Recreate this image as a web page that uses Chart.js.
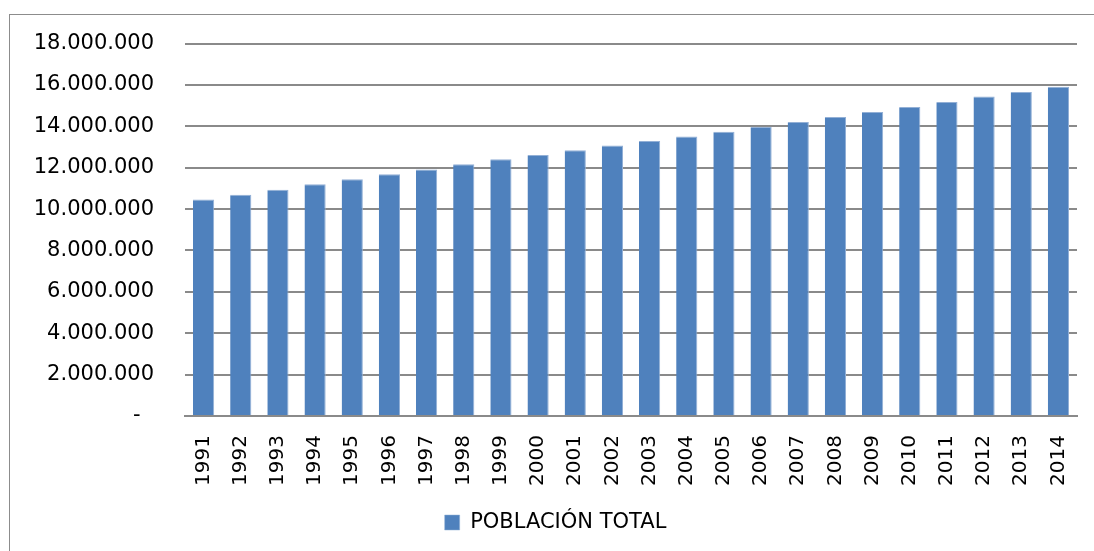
<!DOCTYPE html>
<html>
<head>
<meta charset="utf-8">
<script src="https://cdn.jsdelivr.net/npm/chart.js@4"></script>
<style>
  html, body { margin: 0; padding: 0; background: #fff; overflow: hidden; width: 1094px; height: 551px; }
  .frame { position: absolute; left: 9px; top: 14px; width: 1085px; height: 537px;
           border-left: 1.5px solid #8c8c8c; border-top: 1.5px solid #8c8c8c; box-sizing: border-box; }
  .wrap { position: absolute; left: 0; top: 0; width: 1094px; height: 551px; }
</style>
</head>
<body>
<div class="frame"></div>
<div class="wrap"><canvas id="chart" width="1094" height="551"></canvas></div>
<script>
const years = ['1991', '1992', '1993', '1994', '1995', '1996', '1997', '1998', '1999', '2000', '2001', '2002',
  '2003', '2004', '2005', '2006', '2007', '2008', '2009', '2010', '2011', '2012', '2013', '2014'];
const poblacion = [10470000, 10690000, 10940000, 11200000, 11440000, 11680000, 11910000, 12170000, 12410000, 12620000, 12850000, 13070000,
  13290000, 13510000, 13740000, 13980000, 14210000, 14450000, 14690000, 14940000, 15180000, 15440000, 15660000, 15920000];
const seriesLabel = 'POBLACIÓN TOTAL';
const yMax = 18000000;
const yStep = 2000000;

// Excel style thousands with dots, zero shown as a dash
const formatTick = v => v === 0 ? '-  ' : v.toLocaleString('de-DE');

const font = 'DejaVu Sans';

new Chart(document.getElementById('chart'), {
  type: 'bar',
  data: {
    labels: years,
    datasets: [{
      label: seriesLabel,
      data: poblacion,
      backgroundColor: '#4F81BD',
      borderColor: '#93b0d6',
      borderWidth: { top: 1, right: 1, left: 0, bottom: 0 },
      borderSkipped: 'bottom',
      categoryPercentage: 1,
      barPercentage: 0.57
    }]
  },
  options: {
    responsive: false,
    animation: false,
    layout: { padding: { left: 34, right: 17, top: 34, bottom: 8 } },
    plugins: {
      tooltip: { enabled: false },
      legend: {
        position: 'bottom',
        labels: {
          color: '#000',
          font: { family: font, size: 21 },
          boxWidth: 15,
          boxHeight: 15,
          padding: 10
        }
      }
    },
    scales: {
      x: {
        grid: { display: false, drawTicks: false },
        border: { display: true, color: '#8a8a8a', width: 2 },
        ticks: {
          color: '#000',
          font: { family: font, size: 20 },
          minRotation: 90,
          maxRotation: 90,
          padding: 19,
          autoSkip: false
        },
        afterFit: axis => {
          axis.height = 86;
          axis.paddingLeft = 0;
          axis.paddingRight = 0;
        }
      },
      y: {
        min: 0,
        max: yMax,
        grid: { color: '#8a8a8a', lineWidth: 2, drawTicks: false },
        border: { display: false },
        ticks: {
          stepSize: yStep,
          color: '#000',
          font: { family: font, size: 21 },
          padding: 31,
          callback: formatTick
        },
        afterFit: axis => { axis.width = 151; }
      }
    }
  }
});
</script>
</body>
</html>
